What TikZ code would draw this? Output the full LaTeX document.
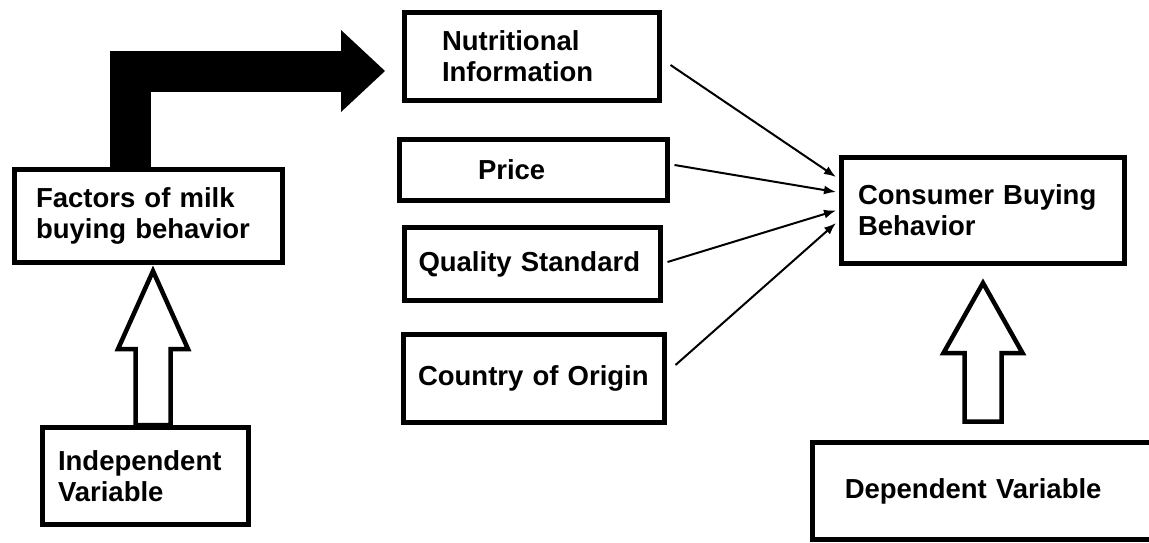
\documentclass[tikz,border=0pt]{standalone}
\usepackage{fontspec}
\setmainfont{Liberation Sans}
\usetikzlibrary{arrows.meta,calc}

% open block arrow: tail, tip, shaft half width, head half width, head length
\newcommand{\hollowarrow}[5]{%
  \draw[hollow] let \p1=(#1), \p2=(#2) in
    (\x1-#3,\y1) -- (\x1-#3,\y2-#5) -- (\x1-#4,\y2-#5) -- (\p2)
    -- (\x1+#4,\y2-#5) -- (\x1+#3,\y2-#5) -- (\x1+#3,\y1) -- cycle;}

\begin{document}
\begin{tikzpicture}[x=1pt,y=-1pt,
	box/.style={draw=black,line width=5pt,align=left,inner ysep=0pt,
		font=\fontsize{27.5}{31}\selectfont\bfseries},
	hollow/.style={draw=black,line width=4.5pt,line join=miter,fill=white},
	link/.style={line width=2pt,-{Latex[length=12pt,width=9pt]}},
	bigarrow/.style={line width=41pt,line join=miter,
		-{Triangle[length=44pt,width=82pt,line width=0pt]}}]

	\useasboundingbox (0,0) rectangle (1149,542);

	\node[box,text width=225pt,inner xsep=21.5pt,minimum height=93pt] (factors) at (148.5,216) {Factors of milk\\buying behavior};
	\node[box,text width=180pt,inner xsep=37.5pt,minimum height=88pt] (nutri) at (532,56.5) {Nutritional\\Information};
	\node[box,text width=111pt,inner xsep=78.5pt,minimum height=61pt] (price) at (533.5,170) {Price};
	\node[box,text width=228pt,inner xsep=14pt,minimum height=73pt] (quality) at (532.5,264) {Quality Standard};
	\node[box,text width=232pt,inner xsep=14.5pt,minimum height=88pt] (origin) at (534,378.5) {Country of Origin};
	\node[box,text width=250pt,inner xsep=16.5pt,minimum height=106pt] (consumer) at (983,210.5) {Consumer Buying\\Behavior};
	\node[box,text width=175pt,inner xsep=15.5pt,minimum height=97pt] (indep) at (145.5,476) {Independent\\Variable};
	\node[box,text width=282.5pt,inner xsep=32.5pt,minimum height=97pt] (dep) at (986,491) {Dependent Variable};

	% factors -> first factor box
	\coordinate (bendtip) at (385,71);
	\draw[bigarrow] ([xshift=-18.5pt]factors.north) |- (bendtip);

	% factors -> consumer behaviour
	\draw[link] ([xshift=8.5pt,yshift=-8.5pt]nutri.east) -- ([xshift=-3pt,yshift=33.5pt]consumer.west);
	\draw[link] ([xshift=4.5pt,yshift=5pt]price.east) -- ([xshift=-3pt,yshift=18.5pt]consumer.west);
	\draw[link] ([xshift=4.5pt,yshift=2pt]quality.east) -- ([xshift=-3pt]consumer.west);
	\draw[link] ([xshift=8.5pt,yshift=13.5pt]origin.east) -- ([xshift=-3pt,yshift=-12.5pt]consumer.west);

	% variable arrows
	\coordinate (ivtail) at ([xshift=7.5pt]indep.north);
	\coordinate (ivtip) at ($(ivtail |- factors.south)+(0,6)$);
	\hollowarrow{ivtail}{ivtip}{17.5pt}{35pt}{78pt}
	\coordinate (dvtip) at ($(consumer.south)+(0,17)$);
	\coordinate (dvtail) at ($(dvtip |- dep.north)+(0,-18.5)$);
	\hollowarrow{dvtail}{dvtip}{18.5pt}{39.5pt}{70pt}

\end{tikzpicture}
\end{document}
